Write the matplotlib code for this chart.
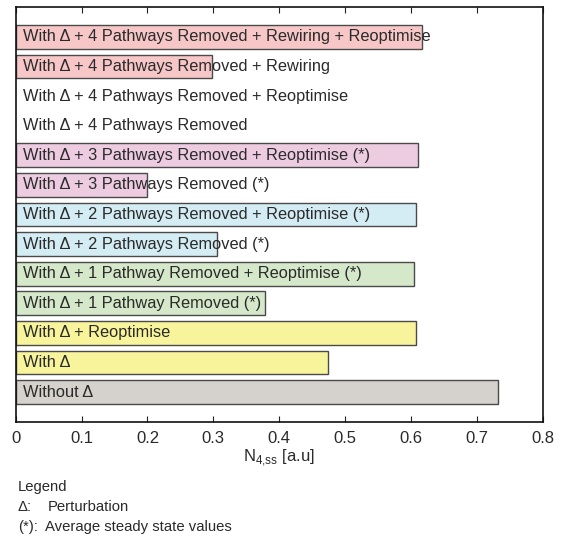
import matplotlib.pyplot as plt

plt.rcParams["font.family"] = ["Liberation Sans", "DejaVu Sans"]
plt.rcParams["mathtext.fontset"] = "custom"
plt.rcParams["mathtext.rm"] = "Liberation Sans"

# Steady-state N4 for each scenario, listed top to bottom
labels = [
    "With Δ + 4 Pathways Removed + Rewiring + Reoptimise",
    "With Δ + 4 Pathways Removed + Rewiring",
    "With Δ + 4 Pathways Removed + Reoptimise",
    "With Δ + 4 Pathways Removed",
    "With Δ + 3 Pathways Removed + Reoptimise (*)",
    "With Δ + 3 Pathways Removed (*)",
    "With Δ + 2 Pathways Removed + Reoptimise (*)",
    "With Δ + 2 Pathways Removed (*)",
    "With Δ + 1 Pathway Removed + Reoptimise (*)",
    "With Δ + 1 Pathway Removed (*)",
    "With Δ + Reoptimise",
    "With Δ",
    "Without Δ",
]
values = [0.617, 0.2975, 0.0, 0.0, 0.611, 0.200, 0.607, 0.305, 0.605, 0.378, 0.608, 0.4745, 0.732]
colors = [
    "#f7c7c8", "#f7c7c8", "none", "none",
    "#edcce2", "#edcce2",
    "#d4ecf4", "#d4ecf4",
    "#d5e8c9", "#d5e8c9",
    "#f8f49c", "#f8f49c",
    "#d5d1cc",
]
xticks = [0, 0.1, 0.2, 0.3, 0.4, 0.5, 0.6, 0.7, 0.8]

# legend notes printed under the axes
note_keys = ["Δ:", "(*):"]
note_texts = ["Perturbation", "Average steady state values"]

fig = plt.figure(figsize=(5.68, 5.36), dpi=100)
ax = fig.add_axes([15.7 / 568, 1 - 421.7 / 536, 527 / 568, 414.4 / 536])

n = len(labels)
ypos = [n - 1 - i for i in range(n)]
for y, v, c, lab in zip(ypos, values, colors, labels):
    if v > 0:
        ax.barh(y, v, height=0.81, color=c, edgecolor="#4a4a4a", linewidth=1.0)
    ax.text(0.0105, y, lab, va="center", ha="left", fontsize=11.8, color="#2a2a2a")

ax.set_xlim(0, 0.8)
ax.set_ylim(-1, n)
ax.set_yticks([])
ax.set_xticks(xticks)
ax.set_xticklabels(["0", "0.1", "0.2", "0.3", "0.4", "0.5", "0.6", "0.7", "0.8"], fontsize=12)
ax.tick_params(axis="x", direction="in", top=True, length=4, pad=7, color="#222222",
               labelcolor="#2a2a2a")
for s in ax.spines.values():
    s.set_linewidth(1.2)
    s.set_color("#111111")

ax.set_xlabel(r"N$_{\mathrm{4{,}ss}}$ [a.u]", fontsize=12, labelpad=1, color="#2a2a2a")

fs = 10.7
tc = "#2a2a2a"
fig.text(18 / 568, 1 - 487 / 536, "Legend", fontsize=fs, va="center", ha="left", color=tc)
fig.text(18 / 568, 1 - 507 / 536, note_keys[0], fontsize=fs, va="center", ha="left", color=tc)
fig.text(48 / 568, 1 - 507 / 536, note_texts[0], fontsize=fs, va="center", ha="left", color=tc)
fig.text(18 / 568, 1 - 527 / 536, note_keys[1], fontsize=fs, va="center", ha="left", color=tc)
fig.text(45 / 568, 1 - 527 / 536, note_texts[1], fontsize=fs, va="center", ha="left", color=tc)

fig.savefig("out.png", dpi=100)
